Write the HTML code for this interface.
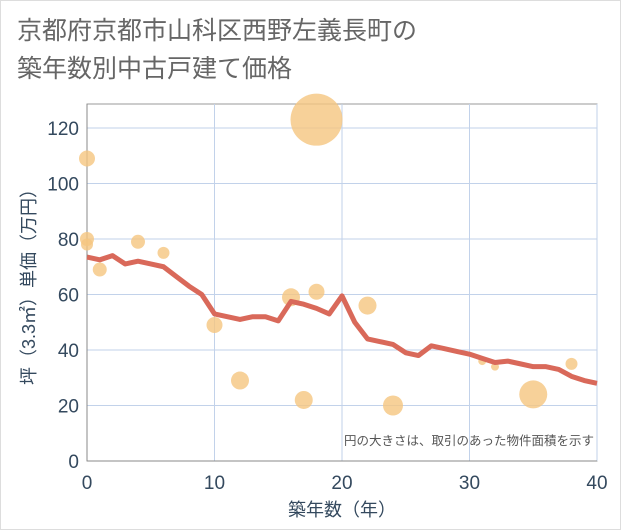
<!DOCTYPE html>
<html><head><meta charset="utf-8"><style>
body{margin:0;background:#fff;}
.wrap{width:619px;height:528px;border:1px solid #ddd;position:relative;font-family:"Liberation Sans","Noto Sans CJK JP",sans-serif;}
.title{position:absolute;left:16px;top:11px;font-size:25px;line-height:38px;color:#666;white-space:nowrap;}
svg{position:absolute;left:0;top:0}
</style></head><body>
<div class="wrap">
<div class="title">京都府京都市山科区西野左義長町の<br>築年数別中古戸建て価格</div>
<svg id="c" width="621" height="530"></svg>
</div>
<script>
const lineX=[0,1,2,3,4,5,6,7,8,9,10,11,12,13,14,15,16,17,18,19,20,21,22,23,24,25,26,27,28,29,30,31,32,33,34,35,36,37,38,39,40];
const lineY=[73.5,72.5,74,71,72,71,70,66.5,63,60,53,52,51,52,52,50.5,57.5,56.5,55,53,59.5,50,44,43,42,39,38,41.5,40.5,39.5,38.5,37,35.5,36,35,34,34,33,30.5,29,28];
const bubX=[0,0,0,1,4,6,10,12,16,18,18,17,22,24,31,32,35,38];
const bubY=[109,80,78,69,79,75,49,29,59,61,123,22,56,20,36,34,24,35];
const bubR=[8,7,6,7,7,6,8,9,9,8,26,9,9,10,4,4,14,6];
const xTicks=[0,10,20,30,40];
const yTicks=[0,20,40,60,80,100,120];
const NS="http://www.w3.org/2000/svg";
const svg=document.getElementById('c');
const L=86,R=596,T=103,B=460;
const sx=v=>L+(v-0)/40*(R-L);
const sy=v=>B-v/120*(B-127);
function mk(t,a,p){const e=document.createElementNS(NS,t);for(const k in a)e.setAttribute(k,a[k]);(p||svg).appendChild(e);return e;}
mk('rect',{x:L,y:T,width:R-L,height:B-T,fill:'#fff',stroke:'#999'});
yTicks.forEach(v=>{const g=mk('line',{x1:L,x2:R,y1:sy(v),y2:sy(v),stroke:'#c2d2ea','stroke-width':1});

const t=mk('text',{x:L-8,y:sy(v)+7,'text-anchor':'end','font-size':19,fill:'#34495e'});t.textContent=v;
});
xTicks.forEach(v=>{const g=mk('line',{x1:sx(v),x2:sx(v),y1:T,y2:B,stroke:'#c2d2ea','stroke-width':1});

const t=mk('text',{x:sx(v),y:B+28,'text-anchor':'middle','font-size':19,fill:'#34495e'});t.textContent=v;
});
mk('line',{x1:L,x2:R,y1:B,y2:B,stroke:'#888'});
mk('line',{x1:L,x2:L,y1:T,y2:B,stroke:'#888'});
bubX.forEach((x,i)=>{const c=mk('circle',{cx:sx(x),cy:sy(bubY[i]),r:bubR[i],fill:'#f5c57f','fill-opacity':0.8});
});
const pl=mk('polyline',{points:lineX.map((x,i)=>sx(x)+','+sy(lineY[i])).join(' '),fill:'none',stroke:'#d9695a','stroke-width':5,'stroke-linejoin':'round'});

const n=mk('text',{x:R-3,y:444,'text-anchor':'end','font-size':12.5,fill:'#555'});n.textContent='円の大きさは、取引のあった物件面積を示す';

const xt=mk('text',{x:(L+R)/2,y:515,'text-anchor':'middle','font-size':18,fill:'#34495e'});xt.textContent='築年数（年）';

const yt=mk('text',{x:0,y:0,'text-anchor':'middle','font-size':18,fill:'#34495e',transform:'translate(34,'+((T+B)/2)+') rotate(-90)'});yt.textContent='坪（3.3㎡）単価（万円）';

</script>
</body></html>
